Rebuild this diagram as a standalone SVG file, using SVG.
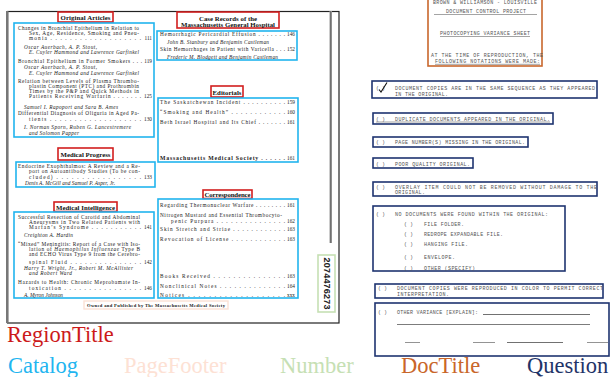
<svg xmlns="http://www.w3.org/2000/svg" width="610" height="377" viewBox="0 0 610 377">
<style>
.t{font-family:"Liberation Serif",serif;font-size:5.3px;fill:#222}
.i{font-style:italic}
.n{text-anchor:end}
.h{font-family:"Liberation Serif",serif;font-size:6.8px;font-weight:bold;fill:#111;text-anchor:middle}
.m{font-family:"Liberation Mono",monospace;font-size:5px;fill:#555}
.rt{fill:none;stroke:#d21f1f;stroke-width:1.6}
.ct{fill:none;stroke:#21b4ee;stroke-width:1.6}
.qu{fill:none;stroke:#1f3470;stroke-width:1.6}
.dt{fill:none;stroke:#c9672c;stroke-width:1.6}
.nu{fill:none;stroke:#c6e0b4;stroke-width:1.6}
.pf{fill:none;stroke:#fbe2d5;stroke-width:1.4}
.lg{font-family:"Liberation Serif",serif;font-size:22.5px}
.ul{stroke:#666;stroke-width:0.6}
</style>
<rect width="610" height="377" fill="#fff"/>
<!-- left page -->
<g id="page-left">
<rect x="7.5" y="11.5" width="331.5" height="311.5" fill="#fff" stroke="#222" stroke-width="1.2"/>
<rect x="6" y="11" width="2.5" height="312" fill="#777"/>
<rect x="329.5" y="11" width="2.5" height="232" fill="#999"/>
<line x1="330.7" y1="11" x2="330.7" y2="243" stroke="#555" stroke-width="0.7"/>
</g>
<!-- Region titles -->
<g id="rt-original-articles"><rect class="rt" x="58" y="12" width="55" height="10"/><text class="h" x="85.5" y="20" textLength="50">Original Articles</text></g>
<g id="rt-case-records"><rect class="rt" x="177" y="12" width="102" height="16"/><text class="h" x="228" y="20.5" textLength="58">Case Records of the</text><text class="h" x="228" y="26.5" textLength="94">Massachusetts General Hospital</text></g>
<g id="rt-editorials"><rect class="rt" x="211" y="86" width="32" height="11"/><text class="h" x="227" y="94.5" textLength="29">Editorials</text></g>
<g id="rt-medical-progress"><rect class="rt" x="58" y="148" width="55" height="12"/><text class="h" x="85.5" y="157" textLength="50">Medical Progress</text></g>
<g id="rt-medical-intelligence"><rect class="rt" x="54" y="202" width="63" height="9.5"/><text class="h" x="85.5" y="209.5" textLength="59">Medical Intelligence</text></g>
<g id="rt-correspondence"><rect class="rt" x="203" y="190" width="49" height="8.5"/><text class="h" x="227.5" y="197" textLength="46">Correspondence</text></g>
<!-- Catalog 1 -->
<g id="cat-original-articles">
<rect class="ct" x="14" y="23" width="140" height="114"/>
<text class="t" x="18" y="30" textLength="121">Changes in Bronchial Epithelium in Relation to</text>
<text class="t" x="29" y="35" textLength="110">Sex, Age, Residence, Smoking and Pneu-</text>
<text class="t" x="29" y="40" textLength="112">monia . . . . . . . . . . . . . . . . . . .</text><text class="t n" x="152" y="40">111</text>
<text class="t i" x="24" y="49" textLength="73">Oscar Auerbach, A. P. Stout,</text>
<text class="t i" x="29" y="54" textLength="110">E. Cuyler Hammond and Lawrence Garfinkel</text>
<text class="t" x="18" y="63" textLength="124">Bronchial Epithelium in Former Smokers . . .</text><text class="t n" x="152" y="63">119</text>
<text class="t i" x="24" y="69" textLength="73">Oscar Auerbach, A. P. Stout,</text>
<text class="t i" x="29" y="75" textLength="110">E. Cuyler Hammond and Lawrence Garfinkel</text>
<text class="t" x="18" y="83" textLength="121">Relation between Levels of Plasma Thrombo-</text>
<text class="t" x="29" y="88" textLength="110">plastin Component (PTC) and Prothrombin</text>
<text class="t" x="29" y="93" textLength="110">Times by the P&amp;P and Quick Methods in</text>
<text class="t" x="29" y="98" textLength="112">Patients Receiving Warfarin . . . . . . .</text><text class="t n" x="152" y="98">125</text>
<text class="t i" x="24" y="109" textLength="94">Samuel I. Rapoport and Sara B. Ames</text>
<text class="t" x="18" y="115" textLength="121">Differential Diagnosis of Oliguria in Aged Pa-</text>
<text class="t" x="29" y="121" textLength="112">tients . . . . . . . . . . . . . . . . . . .</text><text class="t n" x="152" y="121">130</text>
<text class="t i" x="24" y="129" textLength="107">I. Norman Sporn, Ruben G. Lancestremere</text>
<text class="t i" x="29" y="135" textLength="50">and Solomon Papper</text>
</g>
<!-- Catalog 2 -->
<g id="cat-medical-progress">
<rect class="ct" x="16" y="162" width="139" height="25"/>
<text class="t" x="18" y="168" textLength="122">Endocrine Exophthalmos: A Review and a Re-</text>
<text class="t" x="29" y="173" textLength="111">port on Autoantibody Studies (To be con-</text>
<text class="t" x="29" y="179" textLength="112">cluded) . . . . . . . . . . . . . . . . .</text><text class="t n" x="152" y="179">133</text>
<text class="t i" x="25" y="185" textLength="90">Denis A. McGill and Samuel P. Asper, Jr.</text>
</g>
<!-- Catalog 3 -->
<g id="cat-medical-intelligence">
<rect class="ct" x="14" y="212" width="140" height="86"/>
<text class="t" x="18" y="219" textLength="122">Successful Resection of Carotid and Abdominal</text>
<text class="t" x="29" y="224" textLength="111">Aneurysms in Two Related Patients with</text>
<text class="t" x="29" y="229" textLength="112">Marfan’s Syndrome . . . . . . . . . . .</text><text class="t n" x="152" y="229">141</text>
<text class="t i" x="24" y="237" textLength="49">Creighton A. Hardin</text>
<text class="t" x="18" y="246" textLength="122">“Mixed” Meningitis: Report of a Case with Iso-</text>
<text class="t" x="29" y="251" textLength="111">lation of <tspan class="i">Haemophilus Influenzae</tspan> Type B</text>
<text class="t" x="29" y="256" textLength="111">and ECHO Virus Type 9 from the Cerebro-</text>
<text class="t" x="29" y="264" textLength="112">spinal Fluid . . . . . . . . . . . . . . .</text><text class="t n" x="152" y="264">142</text>
<text class="t i" x="24" y="270" textLength="109">Harry T. Wright, Jr., Robert M. McAllister</text>
<text class="t i" x="29" y="275" textLength="43">and Robert Ward</text>
<text class="t" x="18" y="284" textLength="122">Hazards to Health: Chronic Meprobamate In-</text>
<text class="t" x="29" y="290" textLength="112">toxication . . . . . . . . . . . . . . . .</text><text class="t n" x="152" y="290">146</text>
<text class="t i" x="24" y="297" textLength="39">A. Myron Johnson</text>
</g>
<!-- Catalog case records -->
<g id="cat-case-records">
<rect class="ct" x="157" y="31" width="140" height="29"/>
<text class="t" x="160" y="36" textLength="125">Hemorrhagic Pericardial Effusion . . . . . . .</text><text class="t n" x="295" y="36">146</text>
<text class="t i" x="167" y="44" textLength="102">John B. Stanbury and Benjamin Castleman</text>
<text class="t" x="160" y="51" textLength="125">Skin Hemorrhages in Patient with Varicella . . .</text><text class="t n" x="295" y="51">152</text>
<text class="t i" x="167" y="59" textLength="111">Frederic M. Blodgett and Benjamin Castleman</text>
</g>
<!-- Catalog editorials -->
<g id="cat-editorials">
<rect class="ct" x="158" y="98" width="140" height="64"/>
<text class="t" x="160" y="104" textLength="125">The Saskatchewan Incident . . . . . . . . . .</text><text class="t n" x="295" y="104">159</text>
<text class="t" x="160" y="114" textLength="125">“Smoking and Health” . . . . . . . . . . . .</text><text class="t n" x="295" y="114">160</text>
<text class="t" x="160" y="124" textLength="125">Beth Israel Hospital and Its Chief . . . . . . .</text><text class="t n" x="295" y="124">161</text>
<text class="t" x="160" y="160" textLength="125" style="font-weight:bold;font-size:5.8px">Massachusetts Medical Society . . . . . .</text><text class="t n" x="295" y="160">161</text>
</g>
<!-- Catalog correspondence -->
<g id="cat-correspondence">
<rect class="ct" x="158" y="199" width="140" height="99"/>
<text class="t" x="160" y="207" textLength="125">Regarding Thermonuclear Warfare . . . . . . . .</text><text class="t n" x="295" y="207">161</text>
<text class="t" x="160" y="217" textLength="122">Nitrogen Mustard and Essential Thrombocyto-</text>
<text class="t" x="171" y="223" textLength="114">penic Purpura . . . . . . . . . . . . . . .</text><text class="t n" x="295" y="223">162</text>
<text class="t" x="160" y="231" textLength="125">Skin Stretch and Striae . . . . . . . . . . . .</text><text class="t n" x="295" y="231">163</text>
<text class="t" x="160" y="241" textLength="125">Revocation of License . . . . . . . . . . . .</text><text class="t n" x="295" y="241">163</text>
<text class="t" x="160" y="278" textLength="125">Books Received . . . . . . . . . . . . . . .</text><text class="t n" x="295" y="278">163</text>
<text class="t" x="160" y="288" textLength="125">Nonclinical Notes . . . . . . . . . . . . . .</text><text class="t n" x="295" y="288">164</text>
<text class="t" x="160" y="297" textLength="125">Notices . . . . . . . . . . . . . . . . . . .</text><text class="t n" x="295" y="297">xxx</text>
</g>
<!-- Page footer -->
<g id="page-footer">
<rect class="pf" x="84" y="301" width="144" height="8"/>
<text class="t" x="87" y="307" textLength="138" style="font-weight:bold;font-size:4.6px">Owned and Published by The Massachusetts Medical Society</text>
</g>
<!-- Number -->
<g id="number">
<rect class="nu" x="318" y="255" width="17" height="57"/>
<text x="0" y="0" transform="translate(323.5,257.5) rotate(90)" textLength="52" style="font-family:'Liberation Sans',sans-serif;font-weight:bold;font-size:9px;fill:#222">2074476273</text>
</g>
<!-- Right document -->
<g id="doc-title">
<rect class="dt" x="428" y="-1" width="114" height="67"/>
<text class="m" x="433" y="4" textLength="104">BROWN &amp; WILLIAMSON - LOUISVILLE</text>
<text class="m" x="446" y="13" textLength="80">DOCUMENT CONTROL PROJECT</text>
<line class="ul" x1="434" y1="14.5" x2="537" y2="14.5"/>
<text class="m" x="440" y="35" textLength="90">PHOTOCOPYING VARIANCE SHEET</text>
<line class="ul" x1="440" y1="36.5" x2="530" y2="36.5"/>
<text class="m" x="431" y="57" textLength="112">AT THE TIME OF REPRODUCTION, THE</text>
<text class="m" x="435" y="63" textLength="105">FOLLOWING NOTATIONS WERE MADE:</text>
<line class="ul" x1="435" y1="64.3" x2="540" y2="64.3"/>
</g>
<g id="q1">
<rect class="qu" x="372" y="81" width="225" height="17"/>
<text class="m" x="376" y="90">( )</text>
<path d="M379 89.5 L381 92 L387 82.5" fill="none" stroke="#111" stroke-width="1.1"/>
<text class="m" x="395" y="89.5" textLength="200">DOCUMENT COPIES ARE IN THE SAME SEQUENCE AS THEY APPEARED</text>
<text class="m" x="395" y="95.5" textLength="53">IN THE ORIGINAL.</text>
</g>
<g id="q2">
<rect class="qu" x="373" y="113" width="180" height="11"/>
<text class="m" x="376" y="121">( )</text>
<text class="m" x="395" y="121" textLength="155">DUPLICATE DOCUMENTS APPEARED IN THE ORIGINAL.</text>
<line class="ul" x1="376" y1="122" x2="550" y2="122"/>
</g>
<g id="q3">
<rect class="qu" x="373" y="137" width="155" height="10"/>
<text class="m" x="376" y="144">( )</text>
<text class="m" x="395" y="144" textLength="130">PAGE NUMBER(S) MISSING IN THE ORIGINAL.</text>
</g>
<g id="q4">
<rect class="qu" x="373" y="158" width="100" height="10"/>
<text class="m" x="376" y="165.5">( )</text>
<text class="m" x="395" y="165.5" textLength="75">POOR QUALITY ORIGINAL.</text>
</g>
<g id="q5">
<rect class="qu" x="373" y="182" width="224" height="14"/>
<text class="m" x="376" y="188.5">( )</text>
<text class="m" x="395" y="188.5" textLength="202">OVERLAY ITEM COULD NOT BE REMOVED WITHOUT DAMAGE TO THE</text>
<text class="m" x="395" y="194.3" textLength="30">ORIGINAL.</text>
</g>
<g id="q6">
<rect class="qu" x="373" y="206" width="192" height="65"/>
<text class="m" x="376" y="216">( )</text>
<text class="m" x="395" y="216" textLength="153">NO DOCUMENTS WERE FOUND WITHIN THE ORIGINAL:</text>
<text class="m" x="404" y="226">( )</text><text class="m" x="424" y="226" textLength="40">FILE FOLDER.</text>
<text class="m" x="404" y="235.5">( )</text><text class="m" x="424" y="235.5" textLength="79">REDROPE EXPANDABLE FILE.</text>
<text class="m" x="404" y="246">( )</text><text class="m" x="424" y="246" textLength="44">HANGING FILE.</text>
<text class="m" x="404" y="259">( )</text><text class="m" x="424" y="259" textLength="31">ENVELOPE.</text>
<text class="m" x="404" y="269.5">( )</text><text class="m" x="424" y="269.5" textLength="51">OTHER (SPECIFY)</text>
</g>
<g id="q7">
<rect class="qu" x="375" y="284" width="228" height="14"/>
<text class="m" x="378" y="290.3">( )</text>
<text class="m" x="397" y="290.3" textLength="206">DOCUMENT COPIES WERE REPRODUCED IN COLOR TO PERMIT CORRECT</text>
<text class="m" x="397" y="296.2" textLength="52">INTERPRETATION.</text>
</g>
<g id="q8">
<rect class="qu" x="375" y="303" width="234" height="53"/>
<text class="m" x="378" y="313.5">( )</text>
<text class="m" x="397" y="313.5" textLength="81">OTHER VARIANCE [EXPLAIN]:</text>
<line x1="483" y1="314.5" x2="590" y2="314.5" stroke="#333" stroke-width="0.7"/>
<line x1="397" y1="324.5" x2="590" y2="324.5" stroke="#444" stroke-width="0.7"/>
<line x1="405" y1="342.5" x2="420" y2="342.5" stroke="#666" stroke-width="0.7"/>
<line x1="473" y1="342.5" x2="495" y2="342.5" stroke="#666" stroke-width="0.7"/>
<line x1="507" y1="342.5" x2="563" y2="342.5" stroke="#333" stroke-width="0.7"/>
<line x1="587" y1="342.5" x2="608" y2="342.5" stroke="#666" stroke-width="0.7"/>
</g>
<!-- Legend -->
<g id="legend">
<text class="lg" x="7" y="342" fill="#cc1a1a">RegionTitle</text>
<text class="lg" x="8" y="373" fill="#22b5f0">Catalog</text>
<text class="lg" x="124" y="373" fill="#fde1d4">PageFooter</text>
<text class="lg" x="280" y="373" fill="#c6e0b4">Number</text>
<text class="lg" x="401" y="373" fill="#c9662a">DocTitle</text>
<text class="lg" x="527" y="373" fill="#1f3468">Question</text>
</g>
</svg>
